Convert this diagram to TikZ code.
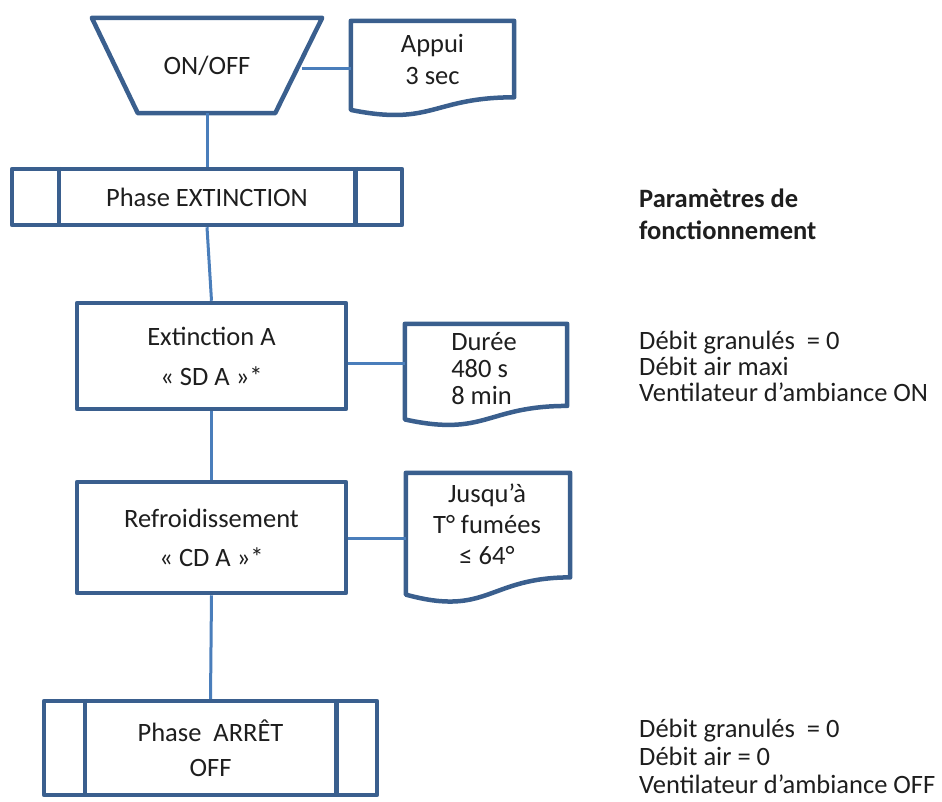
\documentclass[tikz,border=0pt]{standalone}
\usepackage{fontspec}
\setmainfont{Carlito}
\usetikzlibrary{calc}
\definecolor{boxc}{HTML}{3A5F8E}
\definecolor{linec}{HTML}{4A7EBB}
\definecolor{txt}{HTML}{1E1E1E}
\newcommand\docshape[1]{%
  \draw[boxline] (#1.north west) -- (#1.north east)
    -- ($(#1.north east)!0.802!(#1.south east)$)
    .. controls ($(#1.north)!0.802!(#1.south)$) and ($(#1.north)!1.1075!(#1.south)$) ..
    ($(#1.north west)!0.934!(#1.south west)$) -- cycle;}
\begin{document}
\begin{tikzpicture}[x=1pt,y=-1pt,
  boxline/.style={draw=boxc,line width=4.5pt,line join=round},
  conn/.style={draw=linec,line width=3pt},
  every node/.style={font=\fontsize{26.5}{26}\selectfont,text=txt,inner sep=0pt},
  procbox/.style={boxline,rectangle,align=center},
  hidden/.style={rectangle,draw=none}]
\useasboundingbox (0,0) rectangle (942,801);

% ON/OFF trapezoid
\node[hidden,minimum width=230pt,minimum height=95pt] (onoff) at (207,65.5) {ON/OFF};
\draw[boxline] (onoff.north west) -- (onoff.north east)
  -- ($(onoff.south east)+(-47,0)$) -- ($(onoff.south west)+(46,0)$) -- cycle;
\coordinate (onoffR) at (302,68.5);

% Appui document
\node[hidden,minimum width=163pt,minimum height=95pt] (appui) at (432.5,68.5) {};
\docshape{appui}
\node[align=center] (appuiT) at (432.5,59) {Appui\\[6pt]3 sec};

% Phase EXTINCTION
\node[procbox,minimum width=390pt,minimum height=56pt] (pext) at (207,197) {Phase EXTINCTION};
\draw[boxline] ($(pext.north west)+(49,0)$) -- ($(pext.south west)+(49,0)$);
\draw[boxline] ($(pext.north east)+(-49,0)$) -- ($(pext.south east)+(-49,0)$);

% Extinction A
\node[procbox,minimum width=269pt,minimum height=106pt] (extA) at (211.5,356) {Extinction A\\[14pt]« SD A »*};

% Duree document
\node[hidden,minimum width=162pt,minimum height=102pt] (dur) at (486,375) {};
\docshape{dur}
\node[align=left] (durT) at (484,369) {Durée\\[1pt]480 s\\[1pt]8 min};
\coordinate (durIn) at ($(dur.north west)!0.39!(dur.south west)$);

% Refroidissement
\node[procbox,minimum width=269pt,minimum height=111pt] (refr) at (211.5,537.5) {Refroidissement\\[13pt]« CD A »*};

% Jusqu'a document
\node[hidden,minimum width=164pt,minimum height=130pt] (jus) at (488,538) {};
\docshape{jus}
\node[align=center] (jusT) at (487,524) {Jusqu’à\\[5pt]T° fumées\\[5pt]≤ 64°};

% Phase ARRET
\node[procbox,minimum width=333pt,minimum height=94pt] (parr) at (210.5,748) {Phase\ \ ARRÊT\\[9pt]OFF};
\draw[boxline] ($(parr.north west)+(43,0)$) -- ($(parr.south west)+(43,0)$);
\draw[boxline] ($(parr.north east)+(-43,0)$) -- ($(parr.south east)+(-43,0)$);

% connectors
\draw[conn] (onoffR) -- (appui.west);
\draw[conn] (onoff.south) -- (pext.north);
\draw[conn] (pext.south) -- (extA.north);
\draw[conn] (durIn -| extA.east) -- (durIn);
\draw[conn] (extA.south) -- (refr.north);
\draw[conn] (refr.east |- jus.west) -- (jus.west);
\draw[conn] (refr.south) -- (parr.north);

% right-hand texts
\node[anchor=west,align=left,font=\bfseries\fontsize{26.5}{32}\selectfont] (params) at (639,214) {Paramètres de\\fonctionnement};
\node[anchor=west,align=left] (p1) at (639,366) {Débit granulés\ \ = 0\\Débit air maxi\\Ventilateur d’ambiance ON};
\node[anchor=west,align=left,font=\fontsize{26.5}{28}\selectfont] (p2) at (639,756) {Débit granulés\ \ = 0\\Débit air = 0\\Ventilateur d’ambiance OFF};
\end{tikzpicture}
\end{document}
